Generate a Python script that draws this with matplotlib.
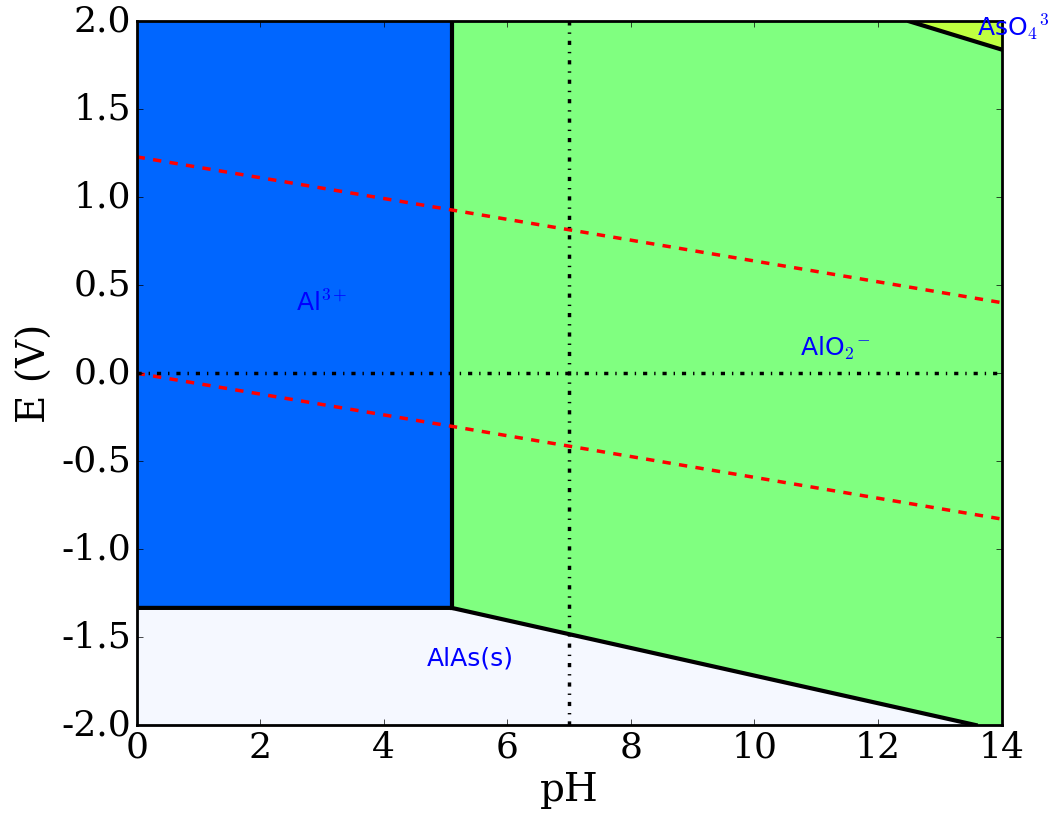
import matplotlib
matplotlib.use("Agg")
import matplotlib.pyplot as plt
import numpy as np
plt.style.use("classic")

# region boundaries (pH, E)
al3_poly_ph = [0, 5.1, 5.1, 0]
al3_poly_e = [-1.334, -1.334, 2.0, 2.0]
alo2_poly_ph = [5.1, 12.51, 14.0, 14.0, 13.58, 5.1]
alo2_poly_e = [2.0, 2.0, 1.84, -2.0, -2.0, -1.334]
alas_poly_ph = [0, 5.1, 13.58, 0]
alas_poly_e = [-1.334, -1.334, -2.0, -2.0]
aso4_poly_ph = [12.51, 14.0, 14.0]
aso4_poly_e = [2.0, 2.0, 1.84]

# water stability lines
ph = np.array([0, 14])
water_top = 1.23 - 0.0592 * ph
water_bot = -0.0592 * ph

fig = plt.figure(figsize=(10.51, 8.23), dpi=100)
ax = fig.add_axes([0.130, 0.119, 0.823, 0.855])

ax.fill(al3_poly_ph, al3_poly_e, color="#0066ff", lw=0)
ax.fill(alo2_poly_ph, alo2_poly_e, color="#80ff80", lw=0)
ax.fill(alas_poly_ph, alas_poly_e, color="#f5f8ff", lw=0)
ax.fill(aso4_poly_ph, aso4_poly_e, color="#bfff40", lw=0)

ax.plot([5.1, 5.1], [-1.334, 2.0], color="k", lw=3)
ax.plot([0, 5.1, 13.58], [-1.334, -1.334, -2.0], color="k", lw=3)
ax.plot([12.51, 14.0], [2.0, 1.84], color="k", lw=3)

ax.plot(ph, water_top, "r--", lw=2.5)
ax.plot(ph, water_bot, "r--", lw=2.5)
ax.axvline(7, color="k", ls="-.", lw=2.5)
ax.axhline(0, color="k", ls="-.", lw=2.5)

ax.text(3.0, 0.40, r"Al$^{3+}$", color="blue", fontsize=18, ha="center", va="center", family="DejaVu Sans")
ax.text(11.3, 0.14, r"AlO$_2$$^{-}$", color="blue", fontsize=18, ha="center", va="center", family="DejaVu Sans")
ax.text(5.4, -1.62, "AlAs(s)", color="blue", fontsize=18, ha="center", va="center", family="DejaVu Sans")
ax.text(13.6, 1.97, r"AsO$_4$$^3$", color="blue", fontsize=18, ha="left", va="center", family="DejaVu Sans")

ax.set_xlim(0, 14)
ax.set_ylim(-2, 2)
ax.set_xticks(range(0, 15, 2))
ax.set_yticks(np.arange(-2, 2.01, 0.5))
ax.set_yticklabels(["%.1f" % v for v in np.arange(-2, 2.01, 0.5)])
for lab in ax.get_xticklabels() + ax.get_yticklabels():
    lab.set_family("DejaVu Serif")
    lab.set_fontsize(26)
ax.set_xlabel("pH", family="DejaVu Serif", fontsize=28)
ax.set_ylabel("E (V)", family="DejaVu Serif", fontsize=28)
for s in ax.spines.values():
    s.set_linewidth(2)

fig.savefig("out.png", dpi=100)
